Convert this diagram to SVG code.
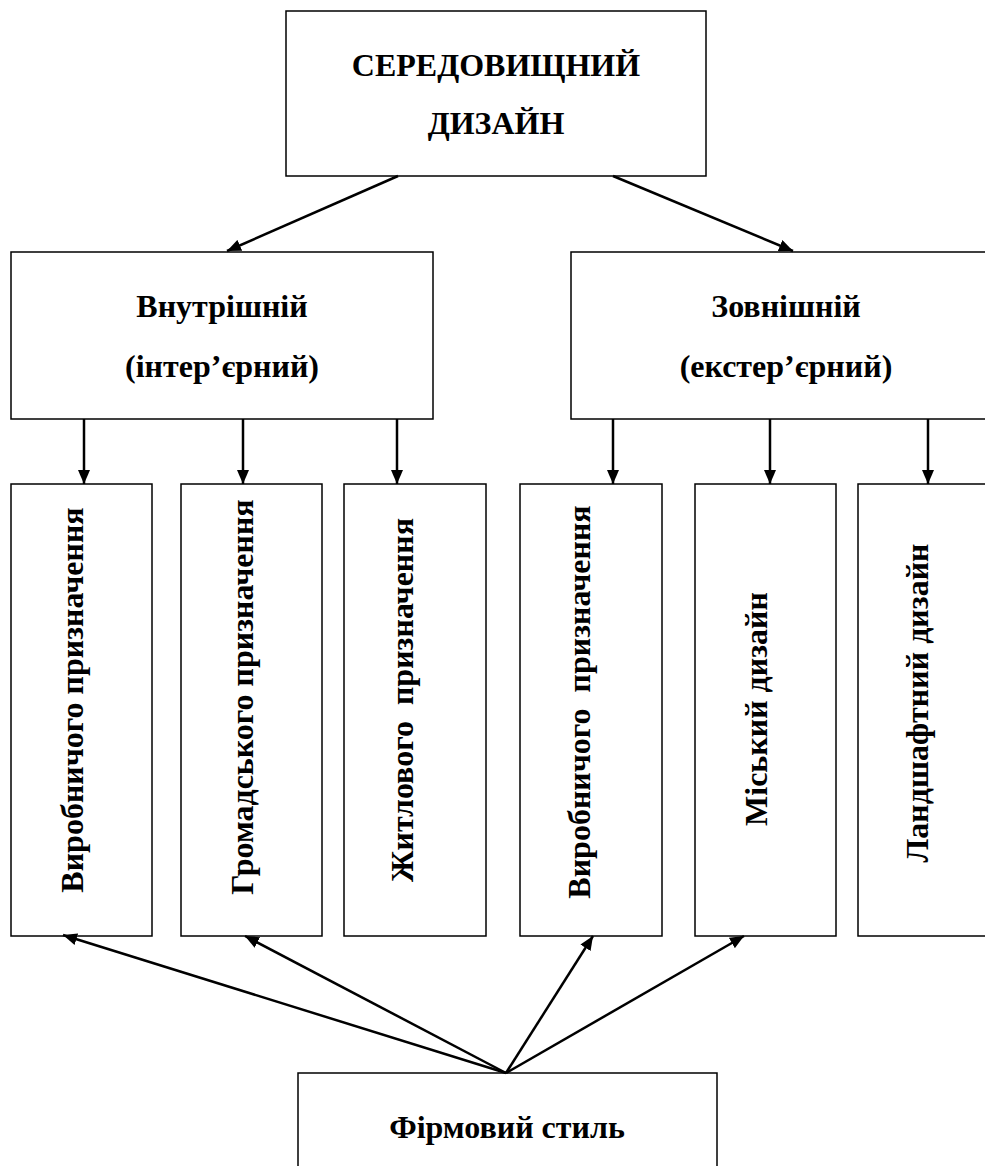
<svg xmlns="http://www.w3.org/2000/svg" width="985" height="1166" viewBox="0 0 985 1166">
<style>
.box{fill:#fff;stroke:#000;stroke-width:1.5}
.t{font-family:"Liberation Serif","Times New Roman",serif;font-weight:bold;font-size:32px;fill:#000;text-anchor:middle;white-space:pre}
.c{stroke:#000;stroke-width:2.5;fill:none;marker-end:url(#ah)}
</style>
<defs>
<marker id="ah" markerUnits="userSpaceOnUse" markerWidth="14" markerHeight="12" refX="14" refY="6" orient="auto">
<path d="M0,0 L14,6 L0,12 z" fill="#000"/>
</marker>
</defs>
<rect width="985" height="1166" fill="#fff"/>
<g id="n-top"><rect class="box" x="286" y="11" width="420" height="165"/>
<text class="t" x="496" y="76">СЕРЕДОВИЩНИЙ</text>
<text class="t" x="496" y="134">ДИЗАЙН</text></g>
<g id="n-inner"><rect class="box" x="11" y="252" width="422" height="167"/>
<text class="t" x="222" y="317">Внутрішній</text>
<text class="t" x="222" y="377">(інтер’єрний)</text></g>
<g id="n-outer"><rect class="box" x="571" y="252" width="440" height="167"/>
<text class="t" x="786" y="317">Зовнішній</text>
<text class="t" x="786" y="377">(екстер’єрний)</text></g>
<g id="n-v1"><rect class="box" x="11" y="484" width="141" height="452"/>
<text class="t" transform="translate(83,700) rotate(-90)">Виробничого призначення</text></g>
<g id="n-v2"><rect class="box" x="181" y="484" width="141" height="452"/>
<text class="t" transform="translate(253,697) rotate(-90)">Громадського призначення</text></g>
<g id="n-v3"><rect class="box" x="344" y="484" width="142" height="452"/>
<text class="t" transform="translate(413,700) rotate(-90)">Житлового  призначення</text></g>
<g id="n-v4"><rect class="box" x="520" y="484" width="142" height="452"/>
<text class="t" transform="translate(590,702) rotate(-90)">Виробничого  призначення</text></g>
<g id="n-v5"><rect class="box" x="695" y="484" width="141" height="452"/>
<text class="t" transform="translate(767,709) rotate(-90)">Міський дизайн</text></g>
<g id="n-v6"><rect class="box" x="858" y="484" width="150" height="452"/>
<text class="t" transform="translate(928,703) rotate(-90)">Ландшафтний дизайн</text></g>
<g id="n-bottom"><rect class="box" x="298" y="1073" width="419" height="110"/>
<text class="t" x="507" y="1138">Фірмовий стиль</text></g>
<g id="connectors">
<line class="c" x1="398" y1="176" x2="227" y2="251"/>
<line class="c" x1="613" y1="176" x2="793" y2="251"/>
<line class="c" x1="84" y1="419" x2="84" y2="484"/>
<line class="c" x1="243" y1="419" x2="243" y2="484"/>
<line class="c" x1="397" y1="419" x2="397" y2="484"/>
<line class="c" x1="613" y1="419" x2="613" y2="484"/>
<line class="c" x1="770" y1="419" x2="770" y2="484"/>
<line class="c" x1="928" y1="419" x2="928" y2="484"/>
<line class="c" x1="506" y1="1073" x2="63" y2="935"/>
<line class="c" x1="506" y1="1073" x2="245" y2="936"/>
<line class="c" x1="506" y1="1073" x2="593" y2="936"/>
<line class="c" x1="506" y1="1073" x2="744" y2="936"/>
</g>
</svg>
